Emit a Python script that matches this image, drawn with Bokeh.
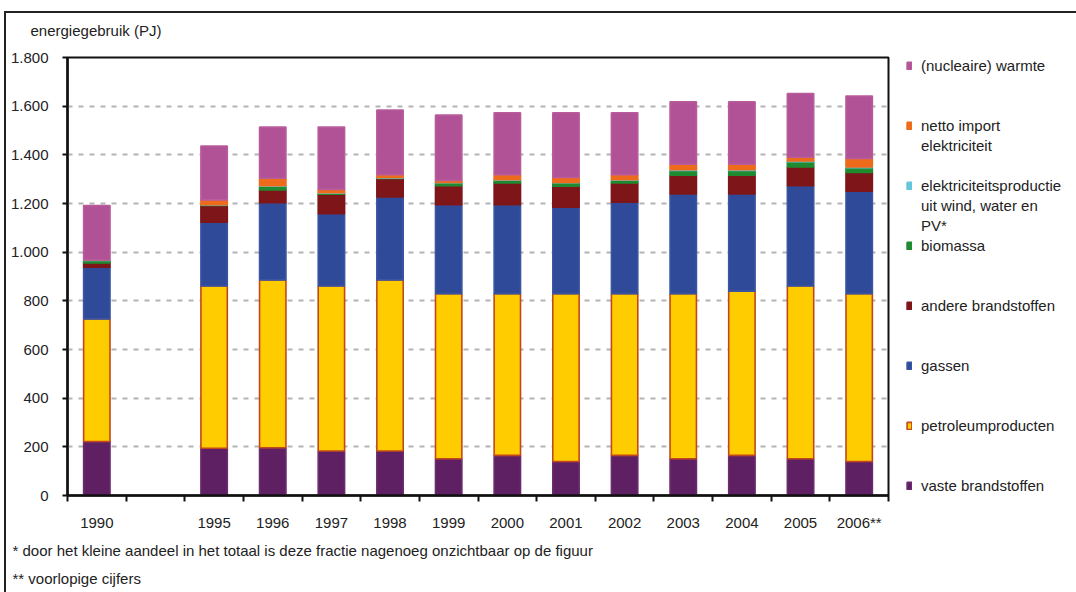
from bokeh.plotting import figure
from bokeh.models import Range1d, FixedTicker, Title, Legend, LegendItem
from bokeh.core.properties import value
from bokeh.embed import file_html
from bokeh.resources import INLINE

# Energy use per year (PJ), stacked from bottom to top
years = ["1990", "1995", "1996", "1997", "1998", "1999", "2000",
         "2001", "2002", "2003", "2004", "2005", "2006**"]
slots = [0, 2, 3, 4, 5, 6, 7, 8, 9, 10, 11, 12, 13]  # slot 1 stays empty

vaste = [222, 194, 196, 183, 183, 151, 165, 140, 165, 151, 165, 151, 140]
petroleum = [504, 667, 690, 678, 703, 678, 664, 689, 664, 678, 675, 710, 689]
gassen = [212, 262, 317, 297, 341, 366, 366, 356, 376, 410, 399, 412, 422]
andere = [18, 69, 53, 80, 76, 78, 89, 86, 79, 77, 77, 77, 77]
biomassa = [10, 2, 15, 4, 2, 12, 12, 14, 12, 20, 20, 22, 19]
wind_water_pv = [2, 1, 2, 2, 2, 2, 2, 2, 2, 3, 3, 3, 3]
netto_import = [0, 20, 31, 14, 11, 8, 20, 20, 20, 23, 23, 15, 35]
warmte = [224, 221, 210, 256, 266, 268, 255, 266, 255, 256, 256, 262, 257]

series = ["vaste", "petroleum", "gassen", "andere", "biomassa",
          "wind_water_pv", "netto_import", "warmte"]
fills = ["#5f1f63", "#ffcc00", "#2f4a99", "#7e1519", "#1f8a30",
         "#66c6dc", "#ee6b1c", "#b05295"]
edges = ["#6a2c6e", "#c2481b", "#3a55a2", "#7e1519", "#1f8a30",
         "#66c6dc", "#ee6b1c", "#b85c9c"]

# legend text, top entry first; each entry may wrap over several lines
legend_labels = {
    "warmte": ["(nucleaire) warmte"],
    "netto_import": ["netto import", "elektriciteit"],
    "wind_water_pv": ["elektriciteitsproductie", "uit wind, water en", "PV*"],
    "biomassa": ["biomassa"],
    "andere": ["andere brandstoffen"],
    "gassen": ["gassen"],
    "petroleum": ["petroleumproducten"],
    "vaste": ["vaste brandstoffen"],
}

y_ticks = [0, 200, 400, 600, 800, 1000, 1200, 1400, 1600, 1800]
y_tick_labels = ["0", "200", "400", "600", "800", "1.000", "1.200",
                 "1.400", "1.600", "1.800"]

y_title = "energiegebruik (PJ)"
footnotes = ["* door het kleine aandeel in het totaal is deze fractie nagenoeg onzichtbaar op de figuur",
             "** voorlopige cijfers"]

FONT = "Liberation Sans"
FS = "15px"
TXT = "#222222"

W, H = 1076, 592
FL, FR, FT, FB = 67, 888, 57, 495  # plot frame edges in page pixels

# thin frame along the left and top edge of the page
frame_css = """
:host { position: relative; }
:host::after {
  content: ""; position: absolute; left: 4px; top: 11px; right: -10px; bottom: -10px;
  border-left: 2px solid #222; border-top: 2px solid #222; pointer-events: none;
}
"""

p = figure(width=W, height=H, output_backend="svg", toolbar_location=None,
           x_range=Range1d(0, 14), y_range=Range1d(0, 1800),
           frame_width=FR - FL, frame_height=FB - FT,
           min_border_left=FL, min_border_right=W - FR,
           min_border_top=FT, min_border_bottom=H - FB,
           background_fill_color="white", border_fill_color="white",
           stylesheets=[frame_css])

data = dict(x=[s + 0.5 for s in slots], vaste=vaste, petroleum=petroleum,
            gassen=gassen, andere=andere, biomassa=biomassa,
            wind_water_pv=wind_water_pv, netto_import=netto_import,
            warmte=warmte)

bars = p.vbar_stack(series, x="x", width=0.45, source=data, fill_color=fills,
                    line_color=edges, line_width=1.6)
by_name = dict(zip(series, bars))

# frame and axes
p.outline_line_color = "#111111"
p.outline_line_width = 2
p.outline_line_alpha = 1

p.xgrid.visible = False
p.ygrid.ticker = FixedTicker(ticks=y_ticks[1:-1])
p.ygrid.grid_line_color = "#b3b3b3"
p.ygrid.grid_line_width = 2
p.ygrid.grid_line_dash = "5 6"

ya = p.yaxis[0]
ya.ticker = FixedTicker(ticks=y_ticks)
ya.major_label_overrides = dict(zip(y_ticks, y_tick_labels))
ya.axis_line_width = 2.5
ya.axis_line_color = "#111111"
ya.major_tick_line_color = "#111111"
ya.major_tick_line_width = 2
ya.major_tick_out = 5
ya.major_tick_in = 0
ya.minor_tick_line_color = None
ya.major_label_standoff = 14
ya.major_label_text_font = FONT
ya.major_label_text_font_size = FS
ya.major_label_text_color = TXT

xa = p.xaxis[0]
xa.ticker = FixedTicker(ticks=data["x"], minor_ticks=list(range(15)))
xa.major_label_overrides = dict(zip(data["x"], years))
xa.axis_line_width = 2.5
xa.axis_line_color = "#111111"
xa.major_tick_line_color = None
xa.major_tick_out = 0
xa.major_tick_in = 0
xa.minor_tick_line_color = "#111111"
xa.minor_tick_line_width = 2
xa.minor_tick_out = 6
xa.minor_tick_in = 0
xa.major_label_standoff = 12
xa.major_label_text_font = FONT
xa.major_label_text_font_size = FS
xa.major_label_text_color = TXT

# y-axis caption above the plot
p.add_layout(Title(text=y_title, align="left", offset=-37, standoff=38,
                   text_font=FONT, text_font_size=FS, text_font_style="normal",
                   text_color=TXT), "above")

# footnotes under the x axis
for note, gap in zip(footnotes, [13, 4]):
    p.add_layout(Title(text=note, align="left", offset=-55, standoff=gap,
                       text_font=FONT, text_font_size=FS,
                       text_font_style="normal", text_color=TXT), "below")

# legend: one row per text line on a fixed pitch
blank = p.rect(x=[], y=[], width=1, height=1, fill_alpha=0, line_alpha=0)
legend_rows = []
for name, gap in [("warmte", 3), ("netto_import", 3), ("wind_water_pv", 3),
                  ("biomassa", 3), ("andere", 3), ("gassen", 3),
                  ("petroleum", 3), ("vaste", 1)]:
    lines = legend_labels[name]
    legend_rows.append(LegendItem(label=value(lines[0]), renderers=[by_name[name]]))
    for extra in lines[1:]:
        legend_rows.append(LegendItem(label=value(extra), renderers=[blank]))
    for _ in range(gap - len(lines)):
        legend_rows.append(LegendItem(label=value(" "), renderers=[blank]))

legend = Legend(items=legend_rows, location=(18, 0), orientation="vertical",
                ncols=1, glyph_width=6, glyph_height=9, label_standoff=9,
                label_height=20, label_width=10, spacing=0, padding=0, margin=0,
                border_line_color=None, background_fill_alpha=0,
                label_text_font=FONT, label_text_font_size=FS,
                label_text_color=TXT)
p.add_layout(legend, "right")

open("out.html", "w").write(file_html(p, INLINE))
